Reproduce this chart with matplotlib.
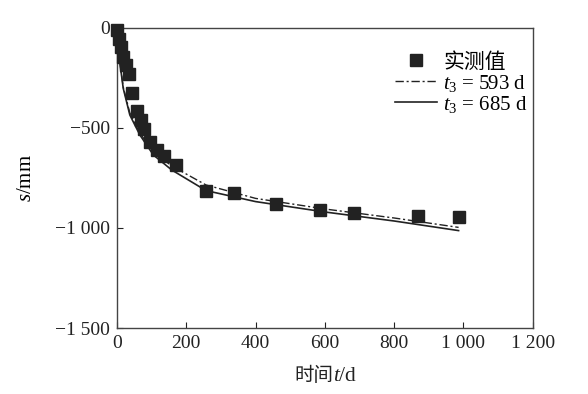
import matplotlib
matplotlib.use("Agg")
import matplotlib.pyplot as plt
from matplotlib.offsetbox import TextArea, HPacker, AnchoredOffsetbox

plt.rcParams['font.family'] = ['Liberation Serif', 'Noto Sans CJK SC']
plt.rcParams['mathtext.fontset'] = 'custom'
plt.rcParams['mathtext.rm'] = 'Liberation Serif'
plt.rcParams['mathtext.it'] = 'Liberation Serif:italic'

# measured data
t_obs = [0, 6, 12, 18, 25, 35, 43, 58, 68, 78, 95, 116, 136, 170, 257, 337, 460, 587, 683, 869, 986]
s_obs = [-10, -55, -93, -143, -185, -232, -323, -415, -460, -505, -568, -610, -638, -685,
         -813, -827, -882, -910, -923, -938, -943]

# model curve t3 = 593 d (dash-dot)
t_593 = [0, 3, 9, 18, 37, 66, 105, 158, 257, 400, 600, 800, 986]
s_593 = [0, -95, -180, -295, -425, -525, -620, -690, -785, -852, -905, -950, -997]

# model curve t3 = 685 d (solid)
t_685 = [0, 3, 9, 18, 37, 66, 105, 158, 257, 400, 600, 800, 986]
s_685 = [0, -100, -185, -302, -435, -535, -635, -710, -813, -868, -920, -965, -1013]

xticks = [0, 200, 400, 600, 800, 1000, 1200]
xticklabels = ['0', '200', '400', '600', '800', '1 000', '1 200']
yticks = [0, -500, -1000, -1500]
yticklabels = ['0', '\u2212500', '\u22121 000', '\u22121 500']

fig = plt.figure(figsize=(5.88, 3.94), dpi=100)
ax = fig.add_axes([0.199, 0.1675, 0.707, 0.7615])

ax.plot(t_593, s_593, color='#222222', lw=1.0, linestyle=(0, (6, 2, 1.5, 2)),
        label='$t_3$ = 593 d', zorder=2)
ax.plot(t_685, s_685, color='#222222', lw=1.2, linestyle='-',
        label='$t_3$ = 685 d', zorder=2)
ax.plot(t_obs, s_obs, linestyle='none', marker='s', markersize=8, color='#222222',
        label='实测值', zorder=3, clip_on=False)

ax.set_xlim(0, 1200)
ax.set_ylim(-1500, 0)
ax.set_xticks(xticks)
ax.set_xticklabels(xticklabels)
ax.set_yticks(yticks)
ax.set_yticklabels(yticklabels)
ax.tick_params(direction='in', length=4, width=0.8, labelsize=14, colors='#222222',
               top=False, right=False)
ax.tick_params(axis='x', pad=5)
ax.tick_params(axis='y', pad=5)
for sp in ax.spines.values():
    sp.set_linewidth(1.0)
    sp.set_color('#444444')

ax.set_ylabel('$s$/mm', fontsize=15, labelpad=14)

# x label: CJK + italic t + /d
parts = HPacker(children=[
    TextArea('时间', textprops=dict(family='Noto Sans CJK SC', size=14, color='#222222')),
    TextArea('t', textprops=dict(family='Liberation Serif', style='italic', size=15.5, color='#222222')),
    TextArea('/d', textprops=dict(family='Liberation Serif', size=15.5, color='#222222')),
], pad=0, sep=0, align='baseline')
ab = AnchoredOffsetbox(loc='center', child=parts, frameon=False,
                       bbox_to_anchor=(0.553, 0.048), bbox_transform=fig.transFigure,
                       borderpad=0, pad=0)
fig.add_artist(ab)

handles, labels = ax.get_legend_handles_labels()
order = [2, 0, 1]
ax.legend([handles[i] for i in order], [labels[i] for i in order],
          loc='upper right', bbox_to_anchor=(1.018, 0.958), frameon=False, fontsize=15,
          handlelength=2.0, handletextpad=0.3, labelspacing=0.0, borderaxespad=0.2)

fig.savefig('out.png', dpi=100)
